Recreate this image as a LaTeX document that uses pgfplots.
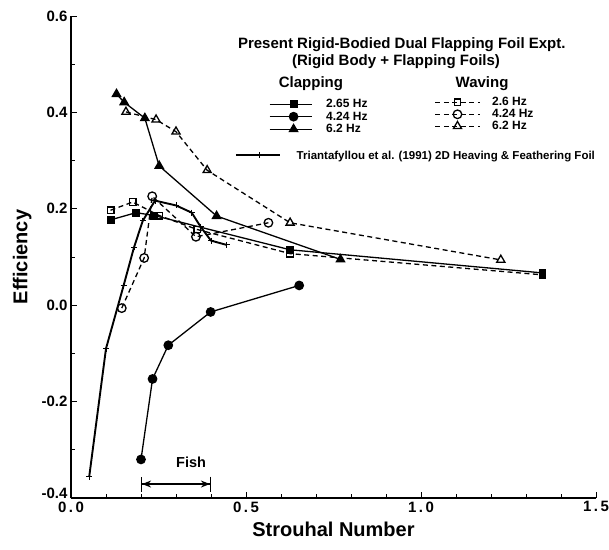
\documentclass[border=0pt]{standalone}
\usepackage{pgfplots}
\pgfplotsset{compat=1.18}
\usetikzlibrary{arrows.meta}
\usepackage{fontspec}
\setmainfont{Liberation Sans}
\begin{document}
\begin{tikzpicture}[font=\bfseries]
\begin{axis}[
  scale only axis, width=525pt, height=482pt,
  xmin=0, xmax=1.5, ymin=-0.4, ymax=0.6,
  clip=false,
  axis x line=bottom, axis y line=left,
  axis line style={-, line width=1.1pt, black},
  xtick={0,0.5,1,1.5},
  xticklabels={0\,.\,0, 0\,.\,5, 1\,.\,0, 1\,.\,5},
  ytick={-0.4,-0.2,0,0.2,0.4,0.6},
  yticklabels={\raisebox{9pt}{-0.4},-0.2,0.0,0.2,0.4,0.6},
  minor x tick num=4, minor y tick num=1,
  tick align=inside,
  major tick length=6pt, minor tick length=4pt,
  every tick/.style={black, line width=0.8pt},
  tick label style={font=\fontsize{15}{15}\selectfont\bfseries},
  xlabel={Strouhal  Number}, ylabel={Efficiency},
  every axis x label/.style={at={(axis description cs:0.5,-0.066)}, anchor=center, font=\fontsize{20}{20}\selectfont\bfseries},
  every axis y label/.style={at={(axis description cs:-0.093,0.5)}, anchor=center, rotate=90, font=\fontsize{20}{20}\selectfont\bfseries},
]
% Clapping 2.65 Hz
\addplot[black, line width=1.3pt, mark=square*, mark size=3.3pt] coordinates {
 (0.113,0.177) (0.186,0.192) (0.238,0.186) (0.626,0.115) (1.347,0.067)};
% Clapping 4.24 Hz
\addplot[black, line width=1.3pt, mark=*, mark size=4.2pt] coordinates {
 (0.200,-0.320) (0.233,-0.153) (0.278,-0.083) (0.399,-0.014) (0.652,0.041)};
% Clapping 6.2 Hz
\addplot[black, line width=1.3pt, mark=triangle*, mark size=4.7pt] coordinates {
 (0.130,0.438) (0.152,0.421) (0.211,0.388) (0.252,0.289) (0.416,0.185) (0.770,0.095)};
% Waving 2.6 Hz
\addplot[black, line width=1.3pt, dash pattern=on 5pt off 3.5pt, mark=square, mark size=3.3pt, mark options={solid, fill=white}] coordinates {
 (0.113,0.197) (0.176,0.214) (0.252,0.186) (0.361,0.157) (0.626,0.107) (1.347,0.063)};
% Waving 4.24 Hz
\addplot[black, line width=1.3pt, dash pattern=on 5pt off 3.5pt, mark=o, mark size=4.3pt, mark options={solid, fill=white}] coordinates {
 (0.145,-0.006) (0.209,0.098) (0.232,0.226) (0.357,0.142) (0.564,0.171)};
% Waving 6.2 Hz
\addplot[black, line width=1.3pt, dash pattern=on 5pt off 3.5pt, mark=triangle, mark size=4.7pt, mark options={solid, fill=white}] coordinates {
 (0.157,0.401) (0.243,0.385) (0.300,0.360) (0.389,0.280) (0.626,0.171) (1.228,0.094)};
% Triantafyllou et al. (1991)
\addplot[black, line width=1.9pt, mark=+, mark size=3pt, mark options={line width=1pt}] coordinates {
 (0.052,-0.356) (0.100,-0.090) (0.150,0.040) (0.180,0.120) (0.205,0.175) (0.240,0.217)
 (0.300,0.207) (0.345,0.192) (0.370,0.163) (0.400,0.134) (0.445,0.125)};
% Fish annotation
\node[font=\fontsize{14.5}{15}\selectfont\bfseries] at (axis cs:0.343,-0.325) {Fish};
\draw[line width=1.1pt, {Bar[width=15pt]Stealth[length=9pt,width=7pt]}-{Stealth[length=9pt,width=7pt]Bar[width=15pt]}]
  (axis cs:0.2,-0.371) -- (axis cs:0.4,-0.371);
% Titles
\node[font=\fontsize{15}{15}\selectfont\bfseries] at (axis description cs:0.630,0.940) {Present Rigid-Bodied Dual Flapping Foil Expt.};
\node[font=\fontsize{15}{15}\selectfont\bfseries] at (axis description cs:0.619,0.905) {(Rigid Body + Flapping Foils)};
\node[font=\fontsize{15}{15}\selectfont\bfseries] at (axis description cs:0.457,0.859) {Clapping};
\node[font=\fontsize{15}{15}\selectfont\bfseries] at (axis description cs:0.783,0.859) {Waving};
\end{axis}
% Clapping legend
\begin{axis}[
  scale only axis, width=525pt, height=482pt, hide axis,
  xmin=0, xmax=1, ymin=0, ymax=1,
  legend style={at={(axis description cs:0.377,0.830)}, anchor=north west,
    draw=none, fill=none, inner sep=0pt, outer sep=0pt, row sep=0pt, column sep=13pt,
    nodes={inner sep=1pt}, font=\fontsize{12}{12}\selectfont\bfseries},
  legend cell align=left,
  legend image code/.code={\draw[mark repeat=2,mark phase=2,#1] plot coordinates {(0pt,0pt)(24pt,0pt)(42pt,0pt)};},
]
\addlegendimage{black, line width=1.3pt, mark=square*, mark size=3.3pt}
\addlegendentry{\rule[-3pt]{0pt}{12pt}2.65 Hz}
\addlegendimage{black, line width=1.3pt, mark=*, mark size=4.2pt}
\addlegendentry{\rule[-3pt]{0pt}{12pt}4.24 Hz}
\addlegendimage{black, line width=1.3pt, mark=triangle*, mark size=4.7pt}
\addlegendentry{\rule[-3pt]{0pt}{12pt}6.2 Hz}
\end{axis}
% Waving legend
\begin{axis}[
  scale only axis, width=525pt, height=482pt, hide axis,
  xmin=0, xmax=1, ymin=0, ymax=1,
  legend style={at={(axis description cs:0.693,0.833)}, anchor=north west,
    draw=none, fill=none, inner sep=0pt, outer sep=0pt, row sep=0pt, column sep=10pt,
    nodes={inner sep=1pt}, font=\fontsize{12}{12}\selectfont\bfseries},
  legend cell align=left,
  legend image code/.code={\draw[mark repeat=2,mark phase=2,#1] plot coordinates {(0pt,0pt)(22pt,0pt)(45pt,0pt)};},
]
\addlegendimage{black, line width=1.3pt, dash pattern=on 5pt off 3.5pt, mark=square, mark size=3.3pt, mark options={solid, fill=white}}
\addlegendentry{\rule[-3pt]{0pt}{11pt}2.6 Hz}
\addlegendimage{black, line width=1.3pt, dash pattern=on 5pt off 3.5pt, mark=o, mark size=4.3pt, mark options={solid, fill=white}}
\addlegendentry{\rule[-3pt]{0pt}{11pt}4.24 Hz}
\addlegendimage{black, line width=1.3pt, dash pattern=on 5pt off 3.5pt, mark=triangle, mark size=4.7pt, mark options={solid, fill=white}}
\addlegendentry{\rule[-3pt]{0pt}{11pt}6.2 Hz}
\end{axis}
% Triantafyllou legend
\begin{axis}[
  scale only axis, width=525pt, height=482pt, hide axis,
  xmin=0, xmax=1, ymin=0, ymax=1,
  legend style={at={(axis description cs:0.312,0.724)}, anchor=north west,
    draw=none, fill=none, inner sep=0pt, outer sep=0pt, row sep=0pt, column sep=15pt,
    nodes={inner sep=1pt}, font=\fontsize{11.5}{12}\selectfont\bfseries},
  legend cell align=left,
  legend image code/.code={\draw[mark repeat=2,mark phase=2,#1] plot coordinates {(0pt,0pt)(24pt,0pt)(44pt,0pt)};},
]
\addlegendimage{black, line width=1.9pt, mark=+, mark size=3pt, mark options={line width=1pt}}
\addlegendentry{\rule[-3pt]{0pt}{12pt}Triantafyllou et al. (1991) 2D Heaving \& Feathering Foil}
\end{axis}
\pgfresetboundingbox
\useasboundingbox (-71pt,-51pt) rectangle (538pt,498pt);
\end{tikzpicture}
\end{document}
